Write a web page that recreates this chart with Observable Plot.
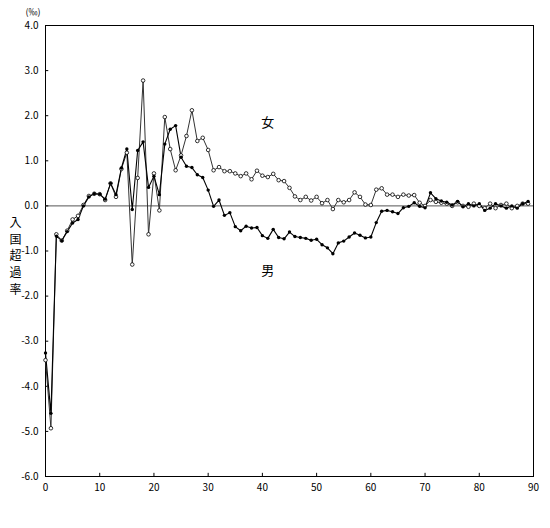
<!DOCTYPE html>
<html><head><meta charset="utf-8">
<script src="https://cdn.jsdelivr.net/npm/d3@7"></script>
<script src="https://cdn.jsdelivr.net/npm/@observablehq/plot@0.6"></script>
<style>body{margin:0;background:#fff}</style>
</head><body><div id="chart"></div>
<script>
const ages = d3.range(0, 90);
const female = [-3.42,-4.93,-0.63,-0.77,-0.55,-0.30,-0.22,0.02,0.22,0.27,
0.26,0.13,0.50,0.20,0.82,1.18,-1.30,0.62,2.78,-0.63,
0.72,-0.10,1.97,1.26,0.79,1.12,1.55,2.12,1.44,1.51,
1.24,0.79,0.86,0.77,0.77,0.72,0.66,0.72,0.59,0.78,
0.67,0.64,0.71,0.57,0.55,0.40,0.21,0.13,0.20,0.12,
0.20,0.06,0.13,-0.07,0.13,0.08,0.13,0.30,0.20,0.03,
0.02,0.36,0.39,0.25,0.25,0.20,0.25,0.23,0.24,0.07,
0.00,0.13,0.09,0.07,0.05,0.00,0.08,0.00,-0.02,0.05,
0.00,-0.05,0.05,-0.05,0.02,0.05,-0.05,0.00,0.05,0.05];
const male = [-3.26,-4.60,-0.67,-0.77,-0.57,-0.38,-0.30,0.00,0.20,0.27,
0.26,0.15,0.50,0.25,0.84,1.26,-0.08,1.23,1.42,0.41,
0.66,0.25,1.37,1.70,1.78,1.08,0.88,0.85,0.69,0.63,
0.35,-0.01,0.13,-0.21,-0.15,-0.46,-0.55,-0.45,-0.49,-0.48,
-0.66,-0.72,-0.52,-0.70,-0.73,-0.58,-0.68,-0.70,-0.72,-0.76,
-0.74,-0.86,-0.93,-1.06,-0.82,-0.78,-0.69,-0.60,-0.65,-0.71,
-0.69,-0.37,-0.12,-0.10,-0.13,-0.17,-0.04,-0.01,0.07,-0.01,
-0.04,0.29,0.16,0.11,0.08,0.02,0.10,-0.02,0.05,0.00,
0.05,-0.10,-0.05,0.05,0.00,-0.05,0.00,-0.05,0.05,0.10];
const xTicks = [0,10,20,30,40,50,60,70,80,90];
const yTicks = [4,3,2,1,0,-1,-2,-3,-4,-5,-6];
const seriesLabels = [{name:"女", x:41, y:1.84},{name:"男", x:41, y:-1.44}];
const yTitle = "入\n国\n超\n過\n率";
const unit = "(‰)";

const fData = ages.map((a,i)=>({age:a, v:female[i]}));
const mData = ages.map((a,i)=>({age:a, v:male[i]}));

const chart = Plot.plot({
  width: 550, height: 528,
  marginLeft: 45, marginRight: 17, marginTop: 25, marginBottom: 52,
  style: {fontFamily: "'Noto Sans CJK JP', sans-serif", fontSize: "10px", background: "#fff", color: "#000"},
  x: {domain: [0, 90]},
  y: {domain: [-6, 4]},
  marks: [
    Plot.frame({stroke: "#000", strokeWidth: 1}),
    Plot.ruleY([0], {stroke: "#555", strokeWidth: 1}),
    Plot.ruleY(yTicks, {x1: 0, x2: 0.6, stroke: "#000"}),
    Plot.ruleX(xTicks, {y1: -6, y2: -5.93, stroke: "#000"}),
    Plot.axisX({ticks: xTicks, tickSize: 0, tickPadding: 7, tickFormat: d => String(d), label: null}),
    Plot.axisY({ticks: yTicks, tickSize: 0, tickPadding: 7, tickFormat: d => d.toFixed(1), label: null}),
    Plot.line(fData, {x: "age", y: "v", stroke: "#333", strokeWidth: 1}),
    Plot.line(mData, {x: "age", y: "v", stroke: "#000", strokeWidth: 1.1}),
    Plot.dot(fData, {x: "age", y: "v", r: 1.8, fill: "#fff", stroke: "#000", strokeWidth: 0.8}),
    Plot.dot(mData, {x: "age", y: "v", r: 1.7, fill: "#000", stroke: "none"}),
    Plot.text(seriesLabels, {x: "x", y: "y", text: "name", fontSize: 13}),
    Plot.text([yTitle], {frameAnchor: "left", dx: -36, dy: 4, fontSize: 12, lineHeight: 1.4}),
    Plot.text([unit], {frameAnchor: "top-left", dx: -20, dy: -17, fontSize: 9})
  ]
});
document.getElementById("chart").appendChild(chart);
</script>
</body></html>
